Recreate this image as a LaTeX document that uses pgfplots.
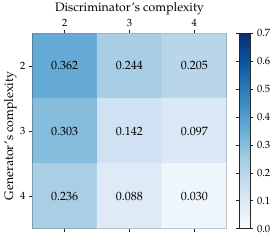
\documentclass[border=0pt]{standalone}
\usepackage[T1]{fontenc}
\usepackage{mathpazo}
\usepackage{pgfplots}
\pgfplotsset{compat=1.18}
\pgfplotsset{colormap={Blues}{rgb255=(247,251,255) rgb255=(222,235,247) rgb255=(198,219,239) rgb255=(158,202,225) rgb255=(107,174,214) rgb255=(66,146,198) rgb255=(33,113,181) rgb255=(8,81,156) rgb255=(8,48,107)}}
\begin{document}
\begin{tikzpicture}
\useasboundingbox (0,0) rectangle (274pt,242pt);
\begin{axis}[
  at={(32.3pt,13.3pt)}, anchor=south west,
  scale only axis, width=194.4pt, height=195.4pt,
  xmin=1.5, xmax=4.5, ymin=1.5, ymax=4.5, y dir=reverse,
  xtick={2,3,4}, ytick={2,3,4},
  xticklabel pos=top, xtick pos=both, ytick pos=left,
  tick align=outside, major tick length=3.5pt,
  axis line style={black!85, line width=0.6pt},
  every tick/.style={black!85, line width=0.6pt},
  xlabel={Discriminator's complexity},
  ylabel={Generator's complexity},
  label style={font=\fontsize{12.3}{14}\selectfont},
  xlabel style={yshift=-2.5pt},
  ylabel style={xshift=-5pt, yshift=-3.5pt},
  tick label style={font=\fontsize{10.5}{12}\selectfont},
  colormap name=Blues, point meta min=0, point meta max=0.7,
  colorbar,
  colorbar style={
    at={(parent axis.north east)}, anchor=north west, xshift=4.06pt,
    scale only axis, width=10.7pt, height=195.4pt,
    ytick={0,0.1,0.2,0.3,0.4,0.5,0.6,0.7},
    yticklabel style={font=\fontsize{10.5}{12}\selectfont, /pgf/number format/.cd, fixed, fixed zerofill, precision=1},
    tick align=outside, major tick length=3.5pt,
    axis line style={black!85, line width=0.6pt},
    every tick/.style={black!85, line width=0.6pt},
  },
]
\addplot[matrix plot*, mesh/cols=3, point meta=explicit] table[meta=c] {
x y c
2 2 0.362
3 2 0.244
4 2 0.205
2 3 0.303
3 3 0.142
4 3 0.097
2 4 0.236
3 4 0.088
4 4 0.030
};
\addplot[draw=none, nodes near coords, point meta=explicit symbolic,
  nodes near coords style={anchor=center, font=\fontsize{12}{14}\selectfont}] table[meta=c] {
x y c
2 2 0.362
3 2 0.244
4 2 0.205
2 3 0.303
3 3 0.142
4 3 0.097
2 4 0.236
3 4 0.088
4 4 0.030
};
\end{axis}
\end{tikzpicture}
\end{document}
